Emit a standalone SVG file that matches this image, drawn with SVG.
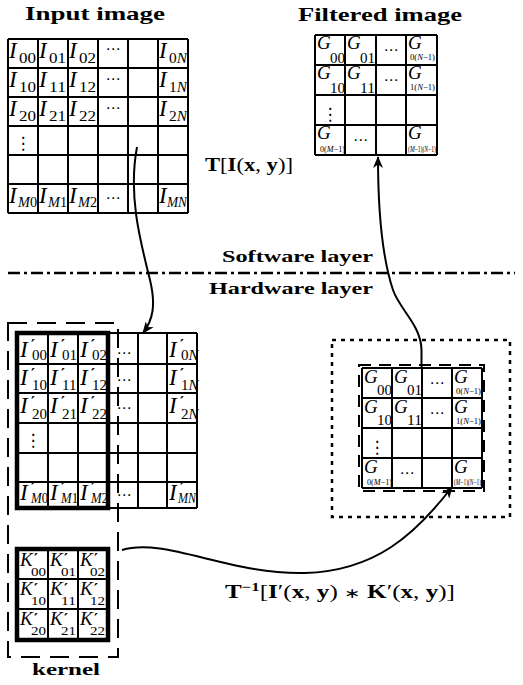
<svg xmlns="http://www.w3.org/2000/svg" width="523" height="685" viewBox="0 0 523 685">
<style>
.ln{stroke:#000;stroke-width:2;fill:none}
.thk{stroke:#000;stroke-width:4.5;fill:none}
.v{font-family:"Liberation Serif",serif;font-style:italic;font-size:23px}
.k{font-family:"Liberation Serif",serif;font-style:italic;font-size:19px}
.gv{font-family:"Liberation Serif",serif;font-style:italic;font-size:19px}
.pr{font-family:"DejaVu Serif",serif;font-weight:bold;font-size:15px}
.sb{font-family:"Liberation Serif",serif;font-size:15px}
.sk{font-family:"Liberation Serif",serif;font-size:12px}
.tn{font-family:"Liberation Serif",serif;font-size:9px}
.it{font-style:italic}
.el{font-family:"DejaVu Sans",sans-serif;font-size:15px;text-anchor:middle}
.vd{font-family:"DejaVu Sans",sans-serif;font-size:17px;text-anchor:middle}
.hd{font-family:"Liberation Serif",serif;font-weight:bold;font-size:19px}
.lb{font-family:"Liberation Serif",serif;font-weight:bold;font-size:17px}
.fm{font-family:"Liberation Serif",serif;font-size:18px}
.b{font-weight:bold}
.con{stroke:#000;stroke-width:2;fill:none;marker-end:url(#ah)}
</style>
<defs>
<marker id="ah" viewBox="0 0 12 10" refX="11" refY="5" markerWidth="12" markerHeight="10" markerUnits="userSpaceOnUse" orient="auto"><path d="M0,0 L12,5 L0,10 L3.5,5 z" fill="#000"/></marker>
</defs>
<rect width="523" height="685" fill="#fff"/>

<!-- headings -->
<text class="hd" x="25" y="20" textLength="140" lengthAdjust="spacingAndGlyphs">Input image</text>
<text class="hd" x="298" y="21" textLength="164" lengthAdjust="spacingAndGlyphs">Filtered image</text>

<!-- Input image grid -->
<g id="input-grid">
<path class="ln" d="M8,39V213M38,39V213M68,39V213M98,39V213M128,39V213M158,39V213M188,39V213M8,39H188M8,68H188M8,97H188M8,126H188M8,155H188M8,184H188M8,213H188"/>
<text class="v" x="9" y="58">I</text><text class="sb" x="19" y="63" textLength="17" lengthAdjust="spacingAndGlyphs">00</text>
<text class="v" x="39" y="58">I</text><text class="sb" x="49" y="63" textLength="17" lengthAdjust="spacingAndGlyphs">01</text>
<text class="v" x="69" y="58">I</text><text class="sb" x="79" y="63" textLength="17" lengthAdjust="spacingAndGlyphs">02</text>
<text class="el" x="113" y="54">⋯</text>
<text class="v" x="159" y="58">I</text><text class="sb" x="169" y="63" textLength="18" lengthAdjust="spacingAndGlyphs">0<tspan class="it">N</tspan></text>
<text class="v" x="9" y="87">I</text><text class="sb" x="19" y="92" textLength="17" lengthAdjust="spacingAndGlyphs">10</text>
<text class="v" x="39" y="87">I</text><text class="sb" x="49" y="92" textLength="17" lengthAdjust="spacingAndGlyphs">11</text>
<text class="v" x="69" y="87">I</text><text class="sb" x="79" y="92" textLength="17" lengthAdjust="spacingAndGlyphs">12</text>
<text class="el" x="113" y="84">⋯</text>
<text class="v" x="159" y="87">I</text><text class="sb" x="169" y="92" textLength="18" lengthAdjust="spacingAndGlyphs">1<tspan class="it">N</tspan></text>
<text class="v" x="9" y="116">I</text><text class="sb" x="19" y="121" textLength="17" lengthAdjust="spacingAndGlyphs">20</text>
<text class="v" x="39" y="116">I</text><text class="sb" x="49" y="121" textLength="17" lengthAdjust="spacingAndGlyphs">21</text>
<text class="v" x="69" y="116">I</text><text class="sb" x="79" y="121" textLength="17" lengthAdjust="spacingAndGlyphs">22</text>
<text class="el" x="113" y="113">⋯</text>
<text class="v" x="159" y="116">I</text><text class="sb" x="169" y="121" textLength="18" lengthAdjust="spacingAndGlyphs">2<tspan class="it">N</tspan></text>
<text class="vd" x="23" y="149">⋮</text>
<text class="v" x="9" y="203">I</text><text class="sb" x="18" y="207" textLength="19" lengthAdjust="spacingAndGlyphs"><tspan class="it">M</tspan>0</text>
<text class="v" x="39" y="203">I</text><text class="sb" x="48" y="207" textLength="19" lengthAdjust="spacingAndGlyphs"><tspan class="it">M</tspan>1</text>
<text class="v" x="69" y="203">I</text><text class="sb" x="78" y="207" textLength="19" lengthAdjust="spacingAndGlyphs"><tspan class="it">M</tspan>2</text>
<text class="el" x="113" y="203">⋯</text>
<text class="v" x="159" y="203">I</text><text class="sb" x="167" y="207" textLength="20" lengthAdjust="spacingAndGlyphs"><tspan class="it">MN</tspan></text>
</g>

<!-- Filtered image grid -->
<g id="filtered-grid">
<path class="ln" d="M315,35V155M345,35V155M376,35V155M406,35V155M437,35V155M315,35H437M315,65H437M315,95H437M315,125H437M315,155H437"/>
<text class="gv" x="317" y="49">G</text><text class="sb" x="330" y="63" textLength="15" lengthAdjust="spacingAndGlyphs">00</text>
<text class="gv" x="347" y="49">G</text><text class="sb" x="360" y="63" textLength="15" lengthAdjust="spacingAndGlyphs">01</text>
<text class="el" x="391" y="55">⋯</text>
<text class="gv" x="408" y="49">G</text><text class="tn" x="410" y="60" textLength="25" lengthAdjust="spacingAndGlyphs">0(<tspan class="it">N</tspan>−1)</text>
<text class="gv" x="317" y="79">G</text><text class="sb" x="330" y="93" textLength="15" lengthAdjust="spacingAndGlyphs">10</text>
<text class="gv" x="347" y="79">G</text><text class="sb" x="360" y="93" textLength="15" lengthAdjust="spacingAndGlyphs">11</text>
<text class="el" x="391" y="85">⋯</text>
<text class="gv" x="408" y="79">G</text><text class="tn" x="410" y="90" textLength="25" lengthAdjust="spacingAndGlyphs">1(<tspan class="it">N</tspan>−1)</text>
<text class="vd" x="330" y="120">⋮</text>
<text class="gv" x="317" y="139">G</text><text class="tn" x="320" y="152" textLength="25" lengthAdjust="spacingAndGlyphs">0(<tspan class="it">M</tspan>−1)</text>
<text class="el" x="360.5" y="145">⋯</text>
<text class="gv" x="408" y="139">G</text><text class="tn" x="408" y="152" textLength="28" lengthAdjust="spacingAndGlyphs">(<tspan class="it">M</tspan>−1)(<tspan class="it">N</tspan>−1)</text>
</g>

<text class="fm" x="205" y="171" textLength="88" lengthAdjust="spacingAndGlyphs"><tspan class="b">T</tspan>[<tspan class="b">I</tspan>(<tspan class="b">x</tspan>, <tspan class="b">y</tspan>)]</text>

<!-- layer divider -->
<g id="layers">
<text class="lb" x="222" y="262" textLength="151" lengthAdjust="spacingAndGlyphs">Software layer</text>
<path d="M8,273H515" stroke="#000" stroke-width="2.5" stroke-dasharray="12 4 3 4"/>
<text class="lb" x="209" y="294" textLength="164" lengthAdjust="spacingAndGlyphs">Hardware layer</text>
</g>

<!-- Hardware input grid -->
<g id="hw-input-grid">
<path class="ln" d="M48,333V508M78,333V508M108,333V508M138,333V508M167,333V508M197,333V508M17,333H197M17,364H197M17,393H197M17,423H197M17,453H197M17,482H197M17,508H197"/>
<rect class="thk" x="17" y="333" width="91" height="175"/>
<text class="v" x="20" y="357">I</text><text class="pr" x="31" y="350">′</text><text class="sb" x="32" y="360">00</text>
<text class="v" x="50" y="357">I</text><text class="pr" x="61" y="350">′</text><text class="sb" x="62" y="360">01</text>
<text class="v" x="80" y="357">I</text><text class="pr" x="91" y="350">′</text><text class="sb" x="92" y="360">02</text>
<text class="el" x="124" y="358">⋯</text>
<text class="v" x="169" y="357">I</text><text class="pr" x="180" y="350">′</text><text class="sb" x="181" y="360">0<tspan class="it">N</tspan></text>
<text class="v" x="20" y="385">I</text><text class="pr" x="31" y="379">′</text><text class="sb" x="32" y="390">10</text>
<text class="v" x="50" y="385">I</text><text class="pr" x="61" y="379">′</text><text class="sb" x="62" y="390">11</text>
<text class="v" x="80" y="385">I</text><text class="pr" x="91" y="379">′</text><text class="sb" x="92" y="390">12</text>
<text class="el" x="124" y="385">⋯</text>
<text class="v" x="169" y="385">I</text><text class="pr" x="180" y="379">′</text><text class="sb" x="181" y="390">1<tspan class="it">N</tspan></text>
<text class="v" x="20" y="413">I</text><text class="pr" x="31" y="407">′</text><text class="sb" x="32" y="419">20</text>
<text class="v" x="50" y="413">I</text><text class="pr" x="61" y="407">′</text><text class="sb" x="62" y="419">21</text>
<text class="v" x="80" y="413">I</text><text class="pr" x="91" y="407">′</text><text class="sb" x="92" y="419">22</text>
<text class="el" x="124" y="413">⋯</text>
<text class="v" x="169" y="413">I</text><text class="pr" x="180" y="407">′</text><text class="sb" x="181" y="419">2<tspan class="it">N</tspan></text>
<text class="vd" x="33" y="446">⋮</text>
<text class="v" x="20" y="500">I</text><text class="pr" x="31" y="493">′</text><text class="sb" x="31" y="503" textLength="17" lengthAdjust="spacingAndGlyphs"><tspan class="it">M</tspan>0</text>
<text class="v" x="50" y="500">I</text><text class="pr" x="61" y="493">′</text><text class="sb" x="61" y="503" textLength="17" lengthAdjust="spacingAndGlyphs"><tspan class="it">M</tspan>1</text>
<text class="v" x="80" y="500">I</text><text class="pr" x="91" y="493">′</text><text class="sb" x="91" y="503" textLength="17" lengthAdjust="spacingAndGlyphs"><tspan class="it">M</tspan>2</text>
<text class="el" x="124" y="500">⋯</text>
<text class="v" x="169" y="500">I</text><text class="pr" x="180" y="493">′</text><text class="sb" x="178" y="503" textLength="18" lengthAdjust="spacingAndGlyphs"><tspan class="it">MN</tspan></text>
</g>

<!-- Kernel -->
<g id="kernel">
<path class="ln" d="M48,549V640M78,549V640M17,579H108M17,609H108"/>
<rect class="thk" x="17" y="549" width="91" height="91"/>
<text class="k" x="20" y="566">K</text><text class="pr" x="34" y="564">′</text><text class="sk" x="31" y="576" textLength="15" lengthAdjust="spacingAndGlyphs">00</text>
<text class="k" x="50" y="566">K</text><text class="pr" x="64" y="564">′</text><text class="sk" x="61" y="576" textLength="15" lengthAdjust="spacingAndGlyphs">01</text>
<text class="k" x="80" y="566">K</text><text class="pr" x="94" y="564">′</text><text class="sk" x="90" y="576" textLength="15" lengthAdjust="spacingAndGlyphs">02</text>
<text class="k" x="20" y="595">K</text><text class="pr" x="34" y="594">′</text><text class="sk" x="31" y="605" textLength="15" lengthAdjust="spacingAndGlyphs">10</text>
<text class="k" x="50" y="595">K</text><text class="pr" x="64" y="594">′</text><text class="sk" x="61" y="605" textLength="15" lengthAdjust="spacingAndGlyphs">11</text>
<text class="k" x="80" y="595">K</text><text class="pr" x="94" y="594">′</text><text class="sk" x="90" y="605" textLength="15" lengthAdjust="spacingAndGlyphs">12</text>
<text class="k" x="20" y="625">K</text><text class="pr" x="34" y="624">′</text><text class="sk" x="31" y="635" textLength="15" lengthAdjust="spacingAndGlyphs">20</text>
<text class="k" x="50" y="625">K</text><text class="pr" x="64" y="624">′</text><text class="sk" x="61" y="635" textLength="15" lengthAdjust="spacingAndGlyphs">21</text>
<text class="k" x="80" y="625">K</text><text class="pr" x="94" y="624">′</text><text class="sk" x="90" y="635" textLength="15" lengthAdjust="spacingAndGlyphs">22</text>
</g>

<!-- dashed window -->
<rect id="window" x="8" y="323" width="110" height="334" fill="none" stroke="#000" stroke-width="2" stroke-dasharray="19 10"/>
<text class="lb" x="32" y="675" textLength="68" lengthAdjust="spacingAndGlyphs">kernel</text>

<!-- Hardware output grid -->
<g id="hw-output">
<rect x="332" y="340" width="178" height="177" fill="none" stroke="#000" stroke-width="2.5" stroke-dasharray="4 5"/>
<rect x="359" y="365" width="125" height="126" fill="none" stroke="#000" stroke-width="2" stroke-dasharray="12 8"/>
<path class="ln" d="M362,368V488M392,368V488M422,368V488M452,368V488M482,368V488M362,368H482M362,398H482M362,428H482M362,458H482M362,488H482"/>
<text class="gv" x="364" y="383">G</text><text class="sb" x="377" y="395" textLength="15" lengthAdjust="spacingAndGlyphs">00</text>
<text class="gv" x="394" y="383">G</text><text class="sb" x="407" y="395" textLength="15" lengthAdjust="spacingAndGlyphs">01</text>
<text class="el" x="437" y="388">⋯</text>
<text class="gv" x="454" y="383">G</text><text class="tn" x="456" y="394" textLength="25" lengthAdjust="spacingAndGlyphs">0(<tspan class="it">N</tspan>−1)</text>
<text class="gv" x="364" y="413">G</text><text class="sb" x="377" y="425" textLength="15" lengthAdjust="spacingAndGlyphs">10</text>
<text class="gv" x="394" y="413">G</text><text class="sb" x="407" y="425" textLength="15" lengthAdjust="spacingAndGlyphs">11</text>
<text class="el" x="437" y="418">⋯</text>
<text class="gv" x="454" y="413">G</text><text class="tn" x="456" y="424" textLength="25" lengthAdjust="spacingAndGlyphs">1(<tspan class="it">N</tspan>−1)</text>
<text class="vd" x="377" y="453">⋮</text>
<text class="gv" x="364" y="473">G</text><text class="tn" x="367" y="485" textLength="25" lengthAdjust="spacingAndGlyphs">0(<tspan class="it">M</tspan>−1)</text>
<text class="el" x="407" y="478">⋯</text>
<text class="gv" x="454" y="473">G</text><text class="tn" x="454" y="485" textLength="27" lengthAdjust="spacingAndGlyphs">(<tspan class="it">M</tspan>−1)(<tspan class="it">N</tspan>−1)</text>
</g>

<text class="fm" x="225" y="598" textLength="230" lengthAdjust="spacingAndGlyphs"><tspan class="b">T</tspan><tspan class="b" font-size="12" dy="-7">−1</tspan><tspan dy="7">[</tspan><tspan class="b">I</tspan>′(<tspan class="b">x</tspan>, <tspan class="b">y</tspan>) <tspan font-size="14">∗</tspan> <tspan class="b">K</tspan>′(<tspan class="b">x</tspan>, <tspan class="b">y</tspan>)]</text>

<!-- connectors -->
<g id="connectors">
<path class="con" d="M137,147 C128,195 140,240 150,280 C156,305 153,320 143,333"/>
<path class="con" d="M421.5,368 L421.5,350 C421,325 400,310 393,290 C383,260 378,220 378,157"/>
<path class="con" d="M122,550 C165,537 230,575 305,573 C375,571 415,535 452,487"/>
</g>
</svg>
